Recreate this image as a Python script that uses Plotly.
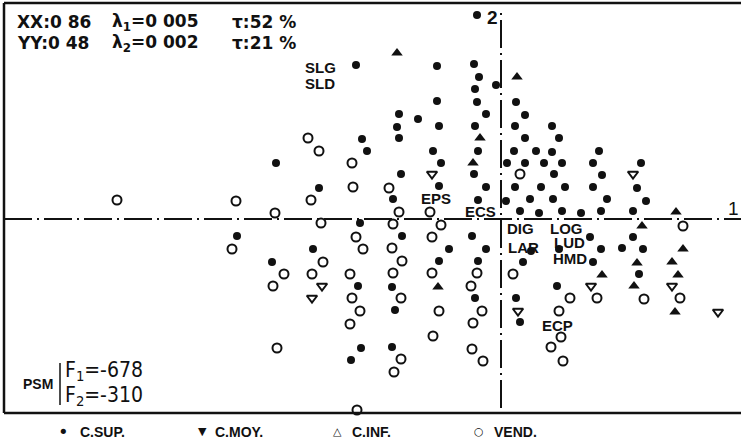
import plotly.graph_objects as go

# Factor-plane coordinates (axis 1 horizontal, axis 2 vertical), scaled units
sup_x = [-145, -139, -134, -225, -182, -264, -141, -188, -229, -143, -140, -150,
         -24, -64, -27, -22, -5, -26, -64, -24, -15, -102, -83, -104, -62, -26,
         -102, -68, -23, -60, -100, -27, -62, -15, -108, -23,
         -99, -29, -52, -15, -62, -23, -109, -26, -106, -109,
         15, 24, 14, 51, 24, 58, 13, 35, 51, 6, 24, 43, 61, 53, 14, 40, 64,
         5, 29, 52, 19, 38, 61, 80, 98, 92, 101, 92, 106, 100,
         140, 136, 145, 132,
         89, 132, 30, 58, 100, 121, 142, 92, 22, 138, 56, 15, 19]
sup_y = [154, 80, 68, 56, 31, -17, -4, -30, -43, -67, -129, -141,
         204, 153, 155, 142, 134, 130, 118, 117, 105, 105, 100, 92, 93, 93,
         81, 68, 68, 56, 45, 45, 33, 32, 20, 19,
         -17, -17, -30, -30, -42, -42, -68, -79, -91, -128,
         117, 104, 93, 93, 81, 81, 68, 68, 67, 56, 56, 56, 56, 45, 32, 32, 32,
         18, 20, 20, 8, 6, 8, 6, 68, 56, 44, 32, 20, 8,
         56, 31, 18, 8,
         -18, -18, -32, -30, -30, -29, -30, -43, -43, -55, -67, -79, -103]

moy_x = [-69, 132, -179, -189, 17, 90, 171, 217]
moy_y = [45, 45, -67, -79, -92, -67, -67, -93]

inf_x = [-104, 16, -21, -28, 175, 141, 182, 136, 171, 101, 177, 133, 174, -63]
inf_y = [166, 142, 81, 56, 7, -7, -30, -44, -43, -56, -56, -67, -93, -68]

vend_x = [-384, -265, -226, -193, -182, -149, -148, -190, -112, -102, -71, 19, 182,
          -180, -269, -145, -138, -178, -217, -189, -151, -228, -149, -141, -151,
          -224, -144,
          -108, -60, -69, -109, -99, -108, -69, -24, -30, -100, -62, -19, -28,
          -68, -29, -100, -18, -107,
          12, 69, 96, 143, 179, 58, 60, 50, 62]
vend_y = [19, 18, 6, 81, 68, 56, 32, 19, 31, 7, 7, 45, -7,
          -4, -30, -18, -30, -43, -55, -55, -55, -67, -79, -92, -105,
          -129, -191,
          -5, -6, -18, -29, -42, -54, -54, -54, -67, -79, -92, -92, -104,
          -117, -130, -140, -142, -153,
          -55, -79, -79, -80, -79, -92, -118, -128, -142]

# Named points (supplementary labels)
point_labels = ["SLG", "SLD", "EPS", "ECS", "DIG", "LOG", "LAR", "LUD", "HMD", "ECP"]
label_x = [-181, -181, -65, -21, 19, 65, 22, 68, 69, 56]
label_y = [152, 136, 21, 8, -9, -9, -28, -23, -39, -106]

legend_names = ["C.SUP.", "C.MOY.", "C.INF.", "VEND."]
legend_symbols = ["•", "▼", "△", "○"]

X_RANGE = [-497, 240]
Y_RANGE = [-194, 216]
INK = "#111111"

fig = go.Figure()

# Factor axes (dash-dot lines through the origin)
fig.add_shape(type="line", x0=X_RANGE[0], x1=X_RANGE[1], y0=0, y1=0,
              line=dict(color=INK, width=2, dash="28px,5px,2px,5px"), layer="below")
fig.add_shape(type="line", x0=0, x1=0, y0=Y_RANGE[0] + 5, y1=Y_RANGE[1] - 5,
              line=dict(color=INK, width=2, dash="28px,5px,2px,5px"), layer="below")

# Frame: left, top and bottom borders
for x0, y0, x1, y1 in [(0, 0, 0, 1), (0, 1, 1, 1), (0, 0, 1, 0)]:
    fig.add_shape(type="line", xref="paper", yref="paper", x0=x0, y0=y0, x1=x1, y1=y1,
                  line=dict(color=INK, width=2.5))

fig.add_trace(go.Scatter(x=vend_x, y=vend_y, mode="markers", name="VEND.",
                         marker=dict(symbol="circle-open", size=9, color=INK, line=dict(width=2))))
fig.add_trace(go.Scatter(x=sup_x, y=sup_y, mode="markers", name="C.SUP.",
                         marker=dict(symbol="circle", size=8, color=INK)))
fig.add_trace(go.Scatter(x=moy_x, y=moy_y, mode="markers", name="C.MOY.",
                         marker=dict(symbol="triangle-down-open", size=9, color=INK, line=dict(width=2))))
fig.add_trace(go.Scatter(x=inf_x, y=inf_y, mode="markers", name="C.INF.",
                         marker=dict(symbol="triangle-up", size=10, color=INK)))
fig.update_traces(cliponaxis=False, showlegend=False, hoverinfo="skip")

bold = dict(family="Liberation Sans, Arial, sans-serif", size=15, color=INK)
for t, x, y in zip(point_labels, label_x, label_y):
    fig.add_annotation(x=x, y=y, text=f"<b>{t}</b>", showarrow=False, font=bold,
                       xanchor="center", yanchor="middle")

# Axis numbers
fig.add_annotation(x=-9, y=202, text="<b>2</b>", showarrow=False,
                   font=dict(family="Liberation Sans, Arial", size=19, color=INK),
                   xanchor="center", yanchor="middle")
fig.add_annotation(x=232, y=11, text="1", showarrow=False,
                   font=dict(family="Liberation Sans, Arial", size=19, color=INK),
                   xanchor="center", yanchor="middle")

# Header: inertia and explained share of each axis
head = dict(family="DejaVu Sans, sans-serif", size=17, color=INK)
header_rows = [
    ("XX:0 86", "λ<sub>1</sub>=0 005", "τ:52 %", 197),
    ("YY:0 48", "λ<sub>2</sub>=0 002", "τ:21 %", 176),
]
for a, b, c, y in header_rows:
    for txt, x in [(a, -486), (b, -391), (c, -271)]:
        fig.add_annotation(x=x, y=y, text=f"<b>{txt}</b>", showarrow=False, font=head,
                           xanchor="left", yanchor="middle")

# PSM coordinates block
fig.add_annotation(x=-463, y=-165, text="<b>PSM</b>", showarrow=False,
                   font=dict(family="Liberation Sans, Arial", size=14, color=INK),
                   xanchor="center", yanchor="middle")
fig.add_shape(type="line", x0=-441, x1=-441, y0=-144, y1=-186, line=dict(color=INK, width=1.5))
narrow = dict(family="Liberation Sans Narrow, DejaVu Sans Condensed, Arial Narrow, sans-serif",
              size=21, color=INK)
fig.add_annotation(x=-438, y=-152, text="F<sub>1</sub>=-678", showarrow=False, font=narrow,
                   xanchor="left", yanchor="middle")
fig.add_annotation(x=-438, y=-177, text="F<sub>2</sub>=-310", showarrow=False, font=narrow,
                   xanchor="left", yanchor="middle")

# Key below the frame (paper coordinates, under the plotting area)
KEY_Y = -0.046
sym_x = [63, 202, 337, 479]
name_x = [78, 213, 350, 492]
for s, n, sx, nx in zip(legend_symbols, legend_names, sym_x, name_x):
    fig.add_annotation(xref="paper", yref="paper", x=(sx - 4) / 737, y=KEY_Y, text=s,
                       showarrow=False,
                       font=dict(family="DejaVu Sans", size=11 if s != "•" else 18, color=INK),
                       xanchor="center", yanchor="middle")
    fig.add_annotation(xref="paper", yref="paper", x=(nx - 4) / 737, y=KEY_Y,
                       text=f"<b>{n}</b>", showarrow=False,
                       font=dict(family="Liberation Sans, Arial", size=14, color=INK),
                       xanchor="left", yanchor="middle")

fig.update_xaxes(range=X_RANGE, visible=False, fixedrange=True)
fig.update_yaxes(range=Y_RANGE, visible=False, fixedrange=True)
fig.update_layout(width=741, height=442, margin=dict(l=4, r=0, t=3, b=29),
                  plot_bgcolor="white", paper_bgcolor="white")

fig.write_html("out.html")
